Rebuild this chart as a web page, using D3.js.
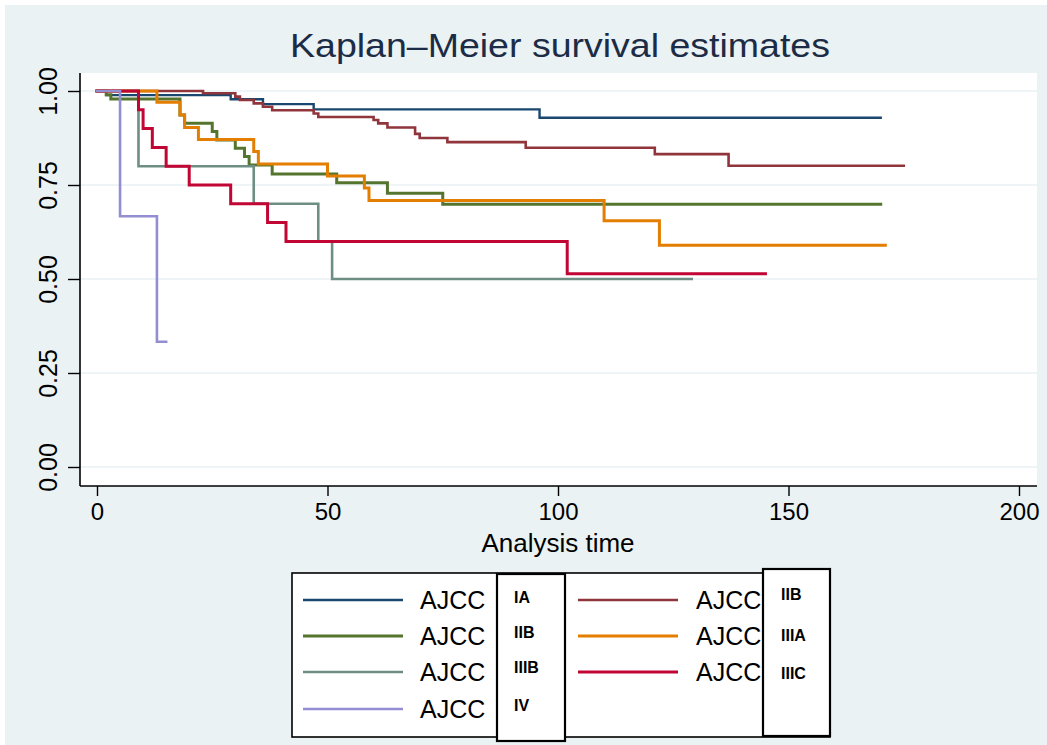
<!DOCTYPE html>
<html>
<head>
<meta charset="utf-8">
<script src="https://cdn.jsdelivr.net/npm/d3@7"></script>
<style>
  html, body { margin: 0; padding: 0; background: #ffffff; }
  svg { display: block; }
  text { font-family: "Liberation Sans", Arial, Helvetica, sans-serif; }
</style>
</head>
<body>
<script>
// ---------------- DATA ----------------
const seriesNames = ["IA", "IIB", "IIB", "IIIA", "IIIB", "IIIC", "IV"];
const seriesColors = ["#1a476f", "#90353b", "#55752f", "#e37e00", "#6e8e84", "#c10534", "#938dd2"];

const timesIA   = [0, 2, 29, 36, 47, 96, 170];
const survIA    = [1, 0.989, 0.978, 0.965, 0.951, 0.929, 0.929];

const timesIIBm = [0, 23, 30, 31, 34, 36, 38, 47, 48, 60, 61, 63, 69, 70, 76, 93, 121, 137, 175];
const survIIBm  = [1, 0.994, 0.985, 0.976, 0.967, 0.958, 0.949, 0.940, 0.931, 0.923, 0.914, 0.903, 0.886, 0.875, 0.864, 0.849, 0.832, 0.801, 0.801];

const timesIIBg = [0, 2, 3, 18, 19, 25, 26, 30, 32, 33, 38, 52, 63, 75, 170];
const survIIBg  = [1, 0.99, 0.979, 0.936, 0.914, 0.892, 0.870, 0.848, 0.826, 0.803, 0.779, 0.756, 0.728, 0.699, 0.699];

const timesIIIA = [0, 13, 18, 19, 22, 34, 35, 50, 58, 59, 110, 122, 171];
const survIIIA  = [1, 0.97, 0.936, 0.903, 0.871, 0.839, 0.806, 0.774, 0.742, 0.709, 0.655, 0.59, 0.59];

const timesIIIB = [0, 9, 34, 48, 51, 129];
const survIIIB  = [1, 0.8, 0.7, 0.6, 0.5, 0.5];

const timesIIIC = [0, 9, 10, 12, 15, 20, 29, 37, 41, 102, 145];
const survIIIC  = [1, 0.95, 0.90, 0.85, 0.80, 0.75, 0.70, 0.65, 0.60, 0.514, 0.514];

const timesIV   = [0, 5, 13, 15];
const survIV    = [1, 0.667, 0.333, 0.333];

const xTicks = [0, 50, 100, 150, 200];
const yTicks = [0, 0.25, 0.5, 0.75, 1];
const yTickLabels = ["0.00", "0.25", "0.50", "0.75", "1.00"];

const titleText = "Kaplan\u2013Meier survival estimates";
const xTitle = "Analysis time";
const legendWord = "AJCC";

// ---------------- LAYOUT ----------------
const W = 1047, H = 745;
const bg = "#eaf2f3";
const series = [
  { t: timesIA,   s: survIA,   w: 2.4 },
  { t: timesIIBm, s: survIIBm, w: 2.6 },
  { t: timesIIBg, s: survIIBg, w: 3 },
  { t: timesIIIA, s: survIIIA, w: 3 },
  { t: timesIIIB, s: survIIIB, w: 2.6 },
  { t: timesIIIC, s: survIIIC, w: 3 },
  { t: timesIV,   s: survIV,   w: 2.6 }
].map((d, i) => ({ ...d, name: seriesNames[i], color: seriesColors[i] }));

const svg = d3.select("body").append("svg").attr("width", W).attr("height", H);

svg.append("rect").attr("x", 0).attr("y", 0).attr("width", W).attr("height", H).attr("fill", "#ffffff");
svg.append("rect").attr("x", 5).attr("y", 5).attr("width", W - 5).attr("height", H - 5).attr("fill", bg);

const plot = { left: 80, top: 73, right: 1037, bottom: 486 };
svg.append("rect").attr("x", plot.left).attr("y", plot.top)
  .attr("width", plot.right - plot.left).attr("height", plot.bottom - plot.top).attr("fill", "#ffffff");

const x = d3.scaleLinear().domain([0, 200]).range([97, 1019]);
const y = d3.scaleLinear().domain([0, 1]).range([467, 91]);

// gridlines
svg.append("g").selectAll("line").data(yTicks).join("line")
  .attr("x1", plot.left).attr("x2", plot.right)
  .attr("y1", d => y(d)).attr("y2", d => y(d))
  .attr("stroke", bg).attr("stroke-width", 1.6);

// title
svg.append("text").attr("x", 560).attr("y", 57).attr("text-anchor", "middle")
  .attr("font-size", 34).attr("fill", "#1c2c46")
  .attr("textLength", 540).attr("lengthAdjust", "spacingAndGlyphs")
  .text(titleText);

// curves
const line = d3.line().x(d => x(d[0])).y(d => y(d[1])).curve(d3.curveStepAfter);
const cg = svg.append("g").attr("fill", "none");
series.forEach(sr => {
  const pts = sr.t.map((t, i) => [t, sr.s[i]]);
  cg.append("path").attr("d", line(pts)).attr("stroke", sr.color)
    .attr("stroke-width", sr.w).attr("stroke-linejoin", "miter").attr("stroke-linecap", "square");
});

// y axis
const yAxis = d3.axisLeft(y).tickValues(yTicks).tickSize(12).tickFormat((d, i) => yTickLabels[i]);
const yg = svg.append("g").attr("transform", `translate(${plot.left},0)`).call(yAxis);
yg.select(".domain").attr("d", `M0,${plot.top}V${plot.bottom}`).attr("stroke", "#000").attr("stroke-width", 1.6);
yg.selectAll(".tick line").attr("stroke", "#000").attr("stroke-width", 1.4);
yg.selectAll(".tick text").attr("font-size", 25).attr("fill", "#000")
  .attr("font-family", "Liberation Sans, Arial, sans-serif")
  .attr("text-anchor", "middle").attr("dy", 0)
  .attr("transform", "translate(-23,0) rotate(-90)").attr("x", 0).attr("y", 0);

// x axis
const xAxis = d3.axisBottom(x).tickValues(xTicks).tickSize(10).tickFormat(d3.format("d"));
const xg = svg.append("g").attr("transform", `translate(0,${plot.bottom})`).call(xAxis);
xg.select(".domain").attr("d", `M${plot.left},0H${plot.right}`).attr("stroke", "#000").attr("stroke-width", 1.6);
xg.selectAll(".tick line").attr("stroke", "#000").attr("stroke-width", 1.4);
xg.selectAll(".tick text").attr("font-size", 24).attr("fill", "#000")
  .attr("font-family", "Liberation Sans, Arial, sans-serif")
  .attr("y", 34).attr("dy", 0);

svg.append("text").attr("x", 558).attr("y", 552).attr("text-anchor", "middle")
  .attr("font-size", 26).attr("fill", "#000").text(xTitle);

// legend
const leg = svg.append("g");
leg.append("rect").attr("x", 292).attr("y", 573).attr("width", 538).attr("height", 164)
  .attr("fill", "#ffffff").attr("stroke", "#000").attr("stroke-width", 1.6);

const col1 = [0, 2, 4, 6], col2 = [1, 3, 5];
const rowY = [600, 636, 672, 709];
function legendItem(idx, row, lx, tx) {
  const sr = series[idx];
  leg.append("line").attr("x1", lx).attr("x2", lx + 100).attr("y1", rowY[row]).attr("y2", rowY[row])
    .attr("stroke", sr.color).attr("stroke-width", sr.w);
  leg.append("text").attr("x", tx).attr("y", rowY[row] + 9).attr("font-size", 25).attr("fill", "#000")
    .text(legendWord);
}
col1.forEach((idx, r) => legendItem(idx, r, 303, 420));
col2.forEach((idx, r) => legendItem(idx, r, 578, 696));

// overlay label boxes
const boxes = [
  { x: 497, y: 574, w: 68, h: 167, items: col1, ly: [597, 632, 667, 705], lx: 514 },
  { x: 763, y: 569, w: 67, h: 167, items: col2, ly: [594, 635, 673], lx: 781 }
];
boxes.forEach(b => {
  leg.append("rect").attr("x", b.x).attr("y", b.y).attr("width", b.w).attr("height", b.h)
    .attr("fill", "#ffffff").attr("stroke", "#000").attr("stroke-width", 2.2);
  b.items.forEach((idx, r) => {
    leg.append("text").attr("x", b.lx).attr("y", b.ly[r] + 6).attr("font-size", 16)
      .attr("font-weight", "bold").attr("fill", "#000").text(series[idx].name);
  });
});
</script>
</body>
</html>
